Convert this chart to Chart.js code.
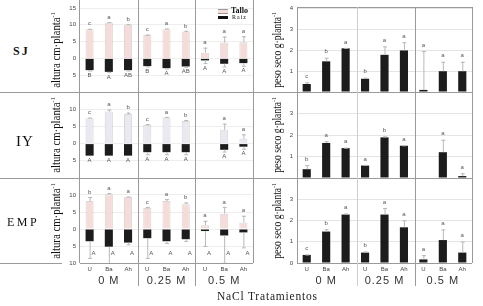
<!DOCTYPE html>
<html>
<head>
<meta charset="utf-8">
<script src="https://cdn.jsdelivr.net/npm/chart.js@4.4.1/dist/chart.umd.min.js"></script>
<style>
html, body { margin: 0; padding: 0; background: #fff; }
#fig { position: relative; width: 483px; height: 306px; overflow: hidden; font-family: "Liberation Sans", Arial, sans-serif; }
#fig canvas { position: absolute; }
.ln { position: absolute; background: #9a9a9a; }
.serif { position: absolute; font-family: "Liberation Serif", "Times New Roman", serif; color: #111; white-space: nowrap; }
.yt { position: absolute; font-family: "Liberation Serif", "Times New Roman", serif; font-size: 12px; color: #111; white-space: nowrap; }
.yt sup { font-size: 7px; }
</style>
</head>
<body>
<div id="fig"></div>
<script>
var groups = ['0 M', '0.25 M', '0.5 M'];
var plants = ['U', 'Ba', 'Ah'];
var rowNames = ['SJ', 'IY', 'EMP'];

// altura (cm planta-1): tallo arriba, raiz abajo (negativo)
var sjTallo    = [8.7, 10.6, 10.0, 7.0, 8.7, 8.0, 1.7, 4.7, 4.8];
var sjTalloErr = [0.1, 0.2, 0.2, 0.1, 0.2, 0.2, 1.5, 1.8, 1.8];
var sjRaiz     = [-3.5, -4.0, -3.5, -2.3, -2.9, -2.4, -0.6, -1.6, -1.4];
var sjRaizErr  = [0.1, 0.1, 0.1, 0.1, 0.1, 0.1, 0.8, 0.8, 0.8];
var sjLetTallo = ['c', 'a', 'b', 'c', 'a', 'b', 'a', 'a', 'a'];
var sjLetRaiz  = ['B', 'A', 'AB', 'B', 'A', 'AB', 'A', 'A', 'A'];

var iyTallo    = [7.4, 9.3, 8.6, 5.4, 7.6, 6.6, null, 4.0, 1.4];
var iyTalloErr = [0.15, 0.6, 0.4, 0.25, 0.15, 0.25, 0, 1.8, 1.3];
var iyRaiz     = [-3.5, -3.5, -3.5, -2.5, -2.5, -2.5, null, -1.8, -0.9];
var iyRaizErr  = [0, 0, 0, 0.6, 0.6, 0.6, 0, 0.5, 0.6];
var iyLetTallo = ['c', 'a', 'b', 'c', 'a', 'b', '', 'a', 'a'];
var iyLetRaiz  = ['A', 'A', 'A', 'A', 'A', 'A', '', 'A', 'A'];

var empTallo    = [8.2, 10.2, 9.5, 6.2, 8.2, 7.3, 1.1, 4.5, 1.9];
var empTalloErr = [1.2, 0.4, 0.05, 0.3, 0.6, 0.5, 1.3, 2.0, 2.0];
var empRaiz     = [-3.6, -5.2, -4.0, -2.7, -3.6, -3.0, -0.6, -1.9, -1.0];
var empRaizErr  = [4.9, 4.8, 0.5, 5.8, 0.5, 0.5, 4.4, 8.0, 4.4];
var empLetTallo = ['b', 'a', 'a', 'c', 'a', 'b', 'a', 'a', 'a'];
var empLetRaiz  = ['A', 'A', 'A', 'A', 'A', 'A', 'A', 'A', 'A'];

// peso seco (g planta-1)
var sjPeso     = [0.38, 1.46, 2.08, 0.63, 1.77, 1.98, 0.10, 0.99, 0.99];
var sjPesoErr  = [0.08, 0.17, 0.02, 0.05, 0.4, 0.39, 1.85, 0.45, 0.45];
var sjLetPeso  = ['c', 'b', 'a', 'b', 'a', 'a', 'a', 'a', 'a'];
var iyPeso     = [0.41, 1.63, 1.39, 0.58, 1.89, 1.50, null, 1.20, 0.09];
var iyPesoErr  = [0.19, 0.08, 0.02, 0.03, 0.05, 0.02, 0, 0.58, 0.13];
var iyLetPeso  = ['b', 'a', 'a', 'a', 'b', 'a', '', 'a', 'a'];
var empPeso    = [0.38, 1.48, 2.28, 0.49, 2.28, 1.68, 0.17, 1.08, 0.49];
var empPesoErr = [0.02, 0.11, 0.05, 0.05, 0.31, 0.33, 0.2, 0.5, 0.52];
var empLetPeso = ['c', 'b', 'a', 'b', 'a', 'a', 'a', 'a', 'a'];

// tick labels shown on each row
var alturaTicks = [[15, 10, 5, 0, -5], [10, 5, 0, -5], [10, 5, 0, -5, -10]];
var pesoTicks = [[4, 3, 2, 1], [3, 2, 1], [3, 2, 1, 0]];

var categories = [];
groups.forEach(function (g) {
    plants.forEach(function (p) { categories.push(g + ' ' + p); });
});

var fig = document.getElementById('fig');
var rowTop = [8, 92, 178];
var rowBot = [92, 178, 263];
var pink = '#f5dcd9';
var lilac = '#eae8f0';

function el(cls, css, html) {
    var d = document.createElement('div');
    d.className = cls;
    d.style.cssText = css;
    if (html) d.innerHTML = html;
    fig.appendChild(d);
    return d;
}

/**
 * One bar panel, its canvas placed so the plot area lands on x0..x1, y0..y1.
 */
function panel(p) {
    var cv = document.createElement('canvas');
    var w = p.padL + (p.x1 - p.x0) + p.padR;
    var h = p.padT + (p.y1 - p.y0) + p.padB;
    cv.width = w;
    cv.height = h;
    cv.style.left = (p.x0 - p.padL) + 'px';
    cv.style.top = (p.y0 - p.padT) + 'px';
    cv.style.width = w + 'px';
    cv.style.height = h + 'px';
    fig.appendChild(cv);

    var marks = {
        id: 'marks',
        afterDatasetsDraw: function (chart) {
            var ctx = chart.ctx;
            var ys = chart.scales.y;
            var xs = chart.scales.x;
            var area = chart.chartArea;
            ctx.save();

            // error bars
            p.errors.forEach(function (err, d) {
                if (!err) return;
                var meta = chart.getDatasetMeta(d);
                var vals = chart.data.datasets[d].data;
                vals.forEach(function (v, i) {
                    if (v === null || !err[i]) return;
                    var x = meta.data[i].x;
                    var sign = v < 0 ? -1 : 1;
                    var ya = ys.getPixelForValue(v);
                    var yb = ys.getPixelForValue(v + sign * err[i]);
                    ctx.strokeStyle = '#b8b8b8';
                    ctx.lineWidth = 1;
                    ctx.beginPath();
                    ctx.moveTo(x + 0.5, ya);
                    ctx.lineTo(x + 0.5, yb);
                    ctx.moveTo(x - 1.5, yb + 0.5);
                    ctx.lineTo(x + 2.5, yb + 0.5);
                    ctx.stroke();
                });
            });

            // letters
            ctx.font = '6px "Liberation Sans", Arial, sans-serif';
            ctx.fillStyle = '#555';
            ctx.textAlign = 'center';
            ctx.textBaseline = 'middle';
            var top = chart.data.datasets[0].data;
            var topMeta = chart.getDatasetMeta(0);
            p.upper.forEach(function (t, i) {
                if (!t || top[i] === null) return;
                var y = ys.getPixelForValue(top[i] + (p.errors[0][i] || 0)) - p.upOff;
                ctx.fillText(t, topMeta.data[i].x, y);
            });
            if (p.lower) {
                var bot = chart.data.datasets[1].data;
                p.lower.forEach(function (t, i) {
                    if (!t || bot[i] === null) return;
                    var y = p.lowerAt !== undefined ?
                        ys.getPixelForValue(p.lowerAt) :
                        ys.getPixelForValue(bot[i] - (p.errors[1][i] || 0)) + 5;
                    ctx.fillText(t, topMeta.data[i].x + (p.lowerDx || 0), y);
                });
            }

            // y tick labels
            ctx.textAlign = 'right';
            ctx.fillStyle = '#444';
            p.ticks.forEach(function (v) {
                ctx.fillText(String(Math.abs(v)), area.left - p.tickGap, ys.getPixelForValue(v));
            });

            // category and group labels under the last row
            if (p.bottom) {
                ctx.textAlign = 'center';
                ctx.fillStyle = '#444';
                categories.forEach(function (c, i) {
                    ctx.fillText(plants[i % 3], xs.getPixelForValue(i), area.bottom + 6);
                });
                ctx.font = '11px "Liberation Sans", Arial, sans-serif';
                ctx.fillStyle = '#333';
                ctx.letterSpacing = '1px';
                groups.forEach(function (g, k) {
                    var xc = (xs.getPixelForValue(k * 3) + xs.getPixelForValue(k * 3 + 2)) / 2;
                    ctx.fillText(g, xc, area.bottom + 18);
                });
            }
            ctx.restore();
        }
    };

    return new Chart(cv, {
        type: 'bar',
        data: { labels: categories, datasets: p.datasets },
        options: {
            responsive: false,
            animation: false,
            layout: { padding: { left: p.padL, right: p.padR, top: p.padT, bottom: p.padB } },
            plugins: { legend: { display: false }, tooltip: { enabled: false } },
            datasets: { bar: { categoryPercentage: 1, barPercentage: 0.42 } },
            scales: {
                x: { display: false, stacked: true },
                y: {
                    stacked: true,
                    min: p.min,
                    max: p.max,
                    ticks: { display: false, stepSize: p.step },
                    grid: { color: p.grid, drawTicks: false },
                    border: { display: false },
                    afterFit: function (s) { s.width = 0; }
                }
            }
        },
        plugins: [marks]
    });
}

var altura = [
    [sjTallo, sjTalloErr, sjRaiz, sjRaizErr, sjLetTallo, sjLetRaiz, pink],
    [iyTallo, iyTalloErr, iyRaiz, iyRaizErr, iyLetTallo, iyLetRaiz, lilac],
    [empTallo, empTalloErr, empRaiz, empRaizErr, empLetTallo, empLetRaiz, pink]
];
var peso = [
    [sjPeso, sjPesoErr, sjLetPeso],
    [iyPeso, iyPesoErr, iyLetPeso],
    [empPeso, empPesoErr, empLetPeso]
];

for (var r = 0; r < 3; r++) {
    var a = altura[r];
    panel({
        x0: 80, x1: 253, y0: rowTop[r], y1: rowBot[r],
        padL: 20, padR: 1, padT: 6, padB: r === 2 ? 30 : 6,
        min: -10, max: 15, step: 5, grid: '#eeeeee',
        datasets: [
            { data: a[0], backgroundColor: a[6], borderColor: 'rgba(140,120,120,0.3)', borderWidth: 1 },
            { data: a[2], backgroundColor: '#1c1c1c', borderWidth: 0 }
        ],
        errors: [a[1], a[3]],
        upper: a[4], lower: a[5], upOff: 5,
        lowerAt: r === 2 ? -7.1 : undefined, lowerDx: r === 2 ? 4 : 0,
        ticks: alturaTicks[r], tickGap: 4,
        bottom: r === 2
    });
    var q = peso[r];
    panel({
        x0: 297, x1: 472, y0: rowTop[r], y1: rowBot[r],
        padL: 14, padR: 2, padT: 6, padB: r === 2 ? 30 : 6,
        min: 0, max: 4, step: 1, grid: '#e4e4e4',
        datasets: [{ data: q[0], backgroundColor: '#1c1c1c', borderWidth: 0 }],
        errors: [q[1]],
        upper: q[2], upOff: 6,
        ticks: pesoTicks[r], tickGap: 4,
        bottom: r === 2
    });
}

// frame lines
[[0, 92, 472], [0, 178, 472], [0, 263, 62], [80, 263, 253], [297, 263, 472], [297, 7, 472]].forEach(function (l) {
    el('ln', 'left:' + l[0] + 'px;top:' + l[1] + 'px;width:' + (l[2] - l[0]) + 'px;height:1px;');
});
[[79, 0, 263], [138, 0, 286], [195, 0, 286], [253, 0, 263], [297, 7, 263], [357, 7, 286], [415, 7, 286], [472, 7, 263]].forEach(function (l) {
    el('ln', 'left:' + l[0] + 'px;top:' + l[1] + 'px;width:1px;height:' + (l[2] - l[1]) + 'px;' + (l[0] === 357 ? 'background:#cfcfcf;' : ''));
});

// row names and axis titles
el('serif', 'left:13px;top:44px;font-size:12px;font-weight:bold;letter-spacing:2px;', rowNames[0]);
el('serif', 'left:16px;top:133px;font-size:15px;letter-spacing:1px;', rowNames[1]);
el('serif', 'left:7px;top:215px;font-size:12px;letter-spacing:2.5px;', rowNames[2]);
for (var k = 0; k < 3; k++) {
    var mid = (rowTop[k] + rowBot[k]) / 2;
    el('yt', 'left:56px;top:' + mid + 'px;transform:translate(-50%,-50%) rotate(-90deg) scaleX(0.9);', 'altura cm\u00b7planta<sup>-1</sup>');
    el('yt', 'left:277px;top:' + mid + 'px;transform:translate(-50%,-50%) rotate(-90deg) scaleX(0.8);', 'peso seco g\u00b7planta<sup>-1</sup>');
}

// legend
el('', 'position:absolute;left:218px;top:9px;width:10px;height:3px;background:' + pink + ';border-top:1px solid #999;border-bottom:1px solid #999;');
el('', 'position:absolute;left:218px;top:16px;width:10px;height:3px;background:#111;');
el('serif', 'left:231px;top:6px;font-size:8px;font-weight:bold;', 'Tallo');
el('serif', 'left:232px;top:14px;font-size:6px;letter-spacing:1px;', 'Raiz');

el('serif', 'left:217px;top:290px;font-size:11.5px;letter-spacing:0.8px;color:#222;', 'NaCl Tratamientos');
</script>
</body>
</html>
